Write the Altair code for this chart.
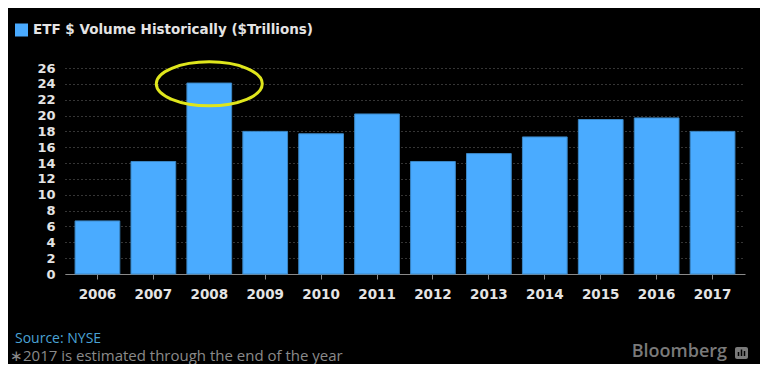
import altair as alt
import pandas as pd

years = ["2006", "2007", "2008", "2009", "2010", "2011", "2012", "2013", "2014", "2015", "2016", "2017"]
volumes = [6.7, 14.2, 24.1, 18.0, 17.7, 20.2, 14.2, 15.2, 17.3, 19.5, 19.7, 18.0]
y_ticks = list(range(0, 27, 2))

title_text = "ETF $ Volume Historically ($Trillions)"
source_text = "Source: NYSE"
note_text = "\u22172017 is estimated through the end of the year"
brand_text = "Bloomberg"
highlight_year = "2008"
highlight_value = 24

df = pd.DataFrame({"year": years, "volume": volumes})
hl = pd.DataFrame({"year": [highlight_year], "volume": [highlight_value]})
one = pd.DataFrame({"k": [0]})

W, H = 680, 206
BAR = "#4aabff"
LABEL = "#e4e4e4"

x_scale = alt.Scale(domain=years, paddingInner=0.2, paddingOuter=0.18)
y_scale = alt.Scale(domain=[0, 26], nice=False)

x = alt.X("year:N", sort=years, title=None, scale=x_scale,
          axis=alt.Axis(labelAngle=0, labelFont="DejaVu Sans", labelFontWeight="bold",
                        labelFontSize=13.5, labelColor=LABEL, labelPadding=8,
                        domainColor="#8a8a8a", domainWidth=1, tickColor="#8a8a8a",
                        tickSize=5, grid=False))
y = alt.Y("volume:Q", title=None, scale=y_scale,
          axis=alt.Axis(values=y_ticks, labelOverlap=False, labelFont="DejaVu Sans",
                        labelFontWeight="bold", labelFontSize=13, labelColor=LABEL,
                        labelPadding=10, domain=False, ticks=False, grid=True,
                        gridColor="#6a6a6a", gridDash=[1, 3], gridWidth=1,
                        tickCount=14))

bars = alt.Chart(df).mark_bar(color=BAR, stroke="#3b86c4", strokeWidth=1).encode(x=x, y=y)

ellipse_path = ("M -1 0 C -1 -0.229 -0.5523 -0.415 0 -0.415 C 0.5523 -0.415 1 -0.229 1 0 "
                "C 1 0.229 0.5523 0.415 0 0.415 C -0.5523 0.415 -1 0.229 -1 0 Z")
ring = alt.Chart(hl).mark_point(shape=ellipse_path, size=11236, filled=False,
                                stroke="#dfe61c", strokeWidth=3, opacity=1).encode(x=x, y=y)

base = alt.Chart(one)
legend_sq = base.mark_square(color=BAR, size=169, opacity=1).encode(
    x=alt.value(-43.5), y=alt.value(-38))
title = base.mark_text(text=title_text, font="DejaVu Sans", fontWeight="bold", fontSize=13.5,
                       color=LABEL, align="left", baseline="middle").encode(
    x=alt.value(-32), y=alt.value(-38))
source = base.mark_text(text=source_text, font="Open Sans", fontSize=14, color="#4aa3d6",
                        align="left", baseline="middle").encode(
    x=alt.value(-50), y=alt.value(270.5))
note = base.mark_text(text=note_text, font="Open Sans", fontSize=15, color="#8a8a8a",
                      align="left", baseline="middle").encode(
    x=alt.value(-55), y=alt.value(288))
brand = base.mark_text(text=brand_text, font="Open Sans", fontWeight=600, fontSize=18,
                       color="#7a7a7a", align="right", baseline="alphabetic").encode(
    x=alt.value(662), y=alt.value(289))
icon = base.mark_rect(color="#7a7a7a", cornerRadius=2).encode(
    x=alt.value(670), x2=alt.value(683), y=alt.value(279), y2=alt.value(291))
icon_bars = [
    base.mark_rule(color="#000000", strokeWidth=1.5).encode(
        x=alt.value(xv), y=alt.value(yt), y2=alt.value(288))
    for xv, yt in [(673.5, 284), (676.5, 281.5), (679.5, 283)]
]

chart = alt.layer(bars, ring, legend_sq, title, source, note, brand, icon, *icon_bars).properties(
    width=W, height=H,
    autosize=alt.AutoSizeParams(type="none"),
    padding={"left": 57, "top": 60, "right": 15, "bottom": 90},
    background="#000000",
).configure_view(stroke=None)

chart.save("out.html", embed_options={"renderer": "svg", "actions": False})
